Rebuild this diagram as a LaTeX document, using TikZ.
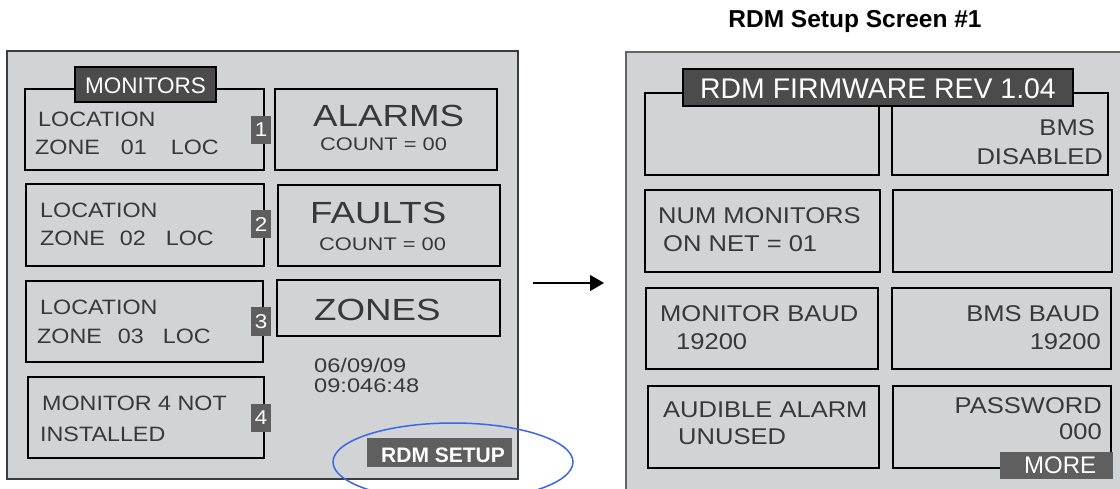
\documentclass[tikz,border=0pt]{standalone}
\usepackage{fontspec}
\usetikzlibrary{arrows.meta}
\setmainfont{Liberation Sans}
\newfontfamily\scr[FakeStretch=1.2]{Liberation Sans}
\newfontfamily\scrn[FakeStretch=1.12]{Liberation Sans}
\newcommand\myfs[1]{\fontsize{#1}{#1}\selectfont}
\definecolor{panel}{HTML}{D2D3D5}
\definecolor{txt}{HTML}{383838}
\definecolor{darklbl}{HTML}{4B4B4B}
\definecolor{badgec}{HTML}{5E5E5E}
\definecolor{btnc}{HTML}{5F5F5F}
\definecolor{ringc}{HTML}{3A66E8}
\definecolor{frame}{HTML}{3C3C3C}
\begin{document}
\begin{tikzpicture}[x=1pt,y=-1pt,
  panelframe/.style={draw=frame,line width=1.6pt,fill=panel},
  lbox/.style={draw=black,line width=2pt},
  rbox/.style={draw=black,line width=1.4pt},
  lbl/.style={draw=black,line width=1.4pt,fill=darklbl},
  badge/.style={fill=badgec,inner sep=0pt,minimum width=20pt,minimum height=28pt,text=white,font=\scrn\myfs{20}},
  body/.style={inner sep=0pt,text=txt,font=\scrn\myfs{20.8},anchor=base west},
  big/.style={inner sep=0pt,text=txt,font=\scr\myfs{30.6},anchor=base west},
  small/.style={inner sep=0pt,text=txt,font=\scr\myfs{18.2},anchor=base west},
  datet/.style={inner sep=0pt,text=txt,font=\scr\myfs{19.7},anchor=base west},
  rbody/.style={inner sep=0pt,text=txt,font=\scrn\myfs{22.8},anchor=base west},
  rbodyr/.style={rbody,anchor=base east},
  lbltext/.style={inner sep=0pt,text=white,anchor=base},
  btnfill/.style={fill=btnc,inner sep=0pt,anchor=north west},
]
\useasboundingbox (0,0) rectangle (1120,489);
\clip (0,0) rectangle (1120,489);
\fill[white] (0,0) rectangle (1120,489);

% title
\node[inner sep=0pt,anchor=base,font=\bfseries\myfs{24.5}] (title) at (855,28) {RDM Setup Screen \#1};

% ---------------- left panel ----------------
\draw[panelframe] (7,51) rectangle (518,479);
\draw[lbox] (25,89) rectangle (264,170);
\draw[lbox] (26,184) rectangle (264,266);
\draw[lbox] (26,281) rectangle (263,362);
\draw[lbox] (28,377) rectangle (264,458);
\draw[lbox] (275,89) rectangle (497,170);
\draw[lbox] (278,185) rectangle (500,266);
\draw[lbox] (277,280) rectangle (500,336);

\draw[lbl] (75,67) rectangle (216,102);
\node[lbltext,font=\myfs{22.5}] (monlbl) at (145.5,94) {MONITORS};

\node[badge] (b1) at (261,130) {1};
\node[badge] (b2) at (261,224.5) {2};
\node[badge] (b3) at (261,321.5) {3};
\node[badge] (b4) at (261,417.5) {4};

\node[body] (l1a) at (38,127) {LOCATION};
\node[body] (l1b) at (35,155) {ZONE\hspace{21pt}01\hspace{24pt}LOC};
\node[body] (l2a) at (40,218) {LOCATION};
\node[body] (l2b) at (40,246) {ZONE\hspace{15pt}02\hspace{20pt}LOC};
\node[body] (l3a) at (40,315) {LOCATION};
\node[body] (l3b) at (37,343) {ZONE\hspace{16pt}03\hspace{19pt}LOC};
\node[body] (l4a) at (42,410) {MONITOR 4 NOT};
\node[body] (l4b) at (40,441) {INSTALLED};

\node[big] (alarms) at (313,127) {ALARMS};
\node[small] (acount) at (320,151) {COUNT = 00};
\node[big] (faults) at (310,224) {FAULTS};
\node[small] (fcount) at (319,251) {COUNT = 00};
\node[big] (zones) at (314,320) {ZONES};

\node[datet] (date) at (314,372) {06/09/09};
\node[datet] (time) at (314,392) {09:046:48};

\node[btnfill,minimum width=145pt,minimum height=29pt] (setupbg) at (367,438) {};
\node[inner sep=0pt,anchor=base west,text=white,font=\bfseries\myfs{21}] (setup) at (381,462) {RDM SETUP};

\draw[ringc,line width=1.5pt] (453,462) ellipse [x radius=120, y radius=39];

% arrow
\coordinate (a0) at (533,283);
\coordinate (a1) at (604,283);
\draw[line width=1.4pt,-{Triangle[length=14pt,width=16pt]}] (a0) -- (a1);

% ---------------- right panel ----------------
\draw[panelframe,draw=frame!80] (626,52) rectangle (1135,500);
\draw[rbox] (645,93) rectangle (879,175);
\draw[rbox] (892,93) rectangle (1108,175);
\draw[rbox] (645,190) rectangle (880,272);
\draw[rbox] (893,190) rectangle (1112,272);
\draw[rbox] (646,288) rectangle (878,369);
\draw[rbox] (892,288) rectangle (1111,369);
\draw[rbox] (648,386) rectangle (879,468);
\draw[rbox] (893,386) rectangle (1111,468);

\draw[lbl] (683,69) rectangle (1073,106);
\node[lbltext,font=\myfs{28.4}] (fw) at (878,99) {RDM FIRMWARE REV 1.04};

\node[rbodyr] (bms) at (1095,136) {BMS};
\node[rbodyr] (dis) at (1103,165) {DISABLED};
\node[rbody] (num) at (658,224) {NUM MONITORS};
\node[rbody] (onnet) at (663,252) {ON NET = 01};
\node[rbody] (mbaud) at (660,322) {MONITOR BAUD};
\node[rbody] (mbv) at (676,349) {19200};
\node[rbodyr] (bbaud) at (1100,322) {BMS BAUD};
\node[rbodyr] (bbv) at (1101,349) {19200};
\node[rbody] (aud) at (663,417) {AUDIBLE ALARM};
\node[rbody] (unused) at (678,444) {UNUSED};
\node[rbodyr] (pw) at (1102,413) {PASSWORD};
\node[rbodyr] (pwv) at (1102,439) {000};

\node[btnfill,minimum width=113pt,minimum height=27pt] (morebg) at (1000,452) {};
\node[inner sep=0pt,anchor=base west,text=white,font=\myfs{24}] (more) at (1024,473) {MORE};
\end{tikzpicture}
\end{document}
